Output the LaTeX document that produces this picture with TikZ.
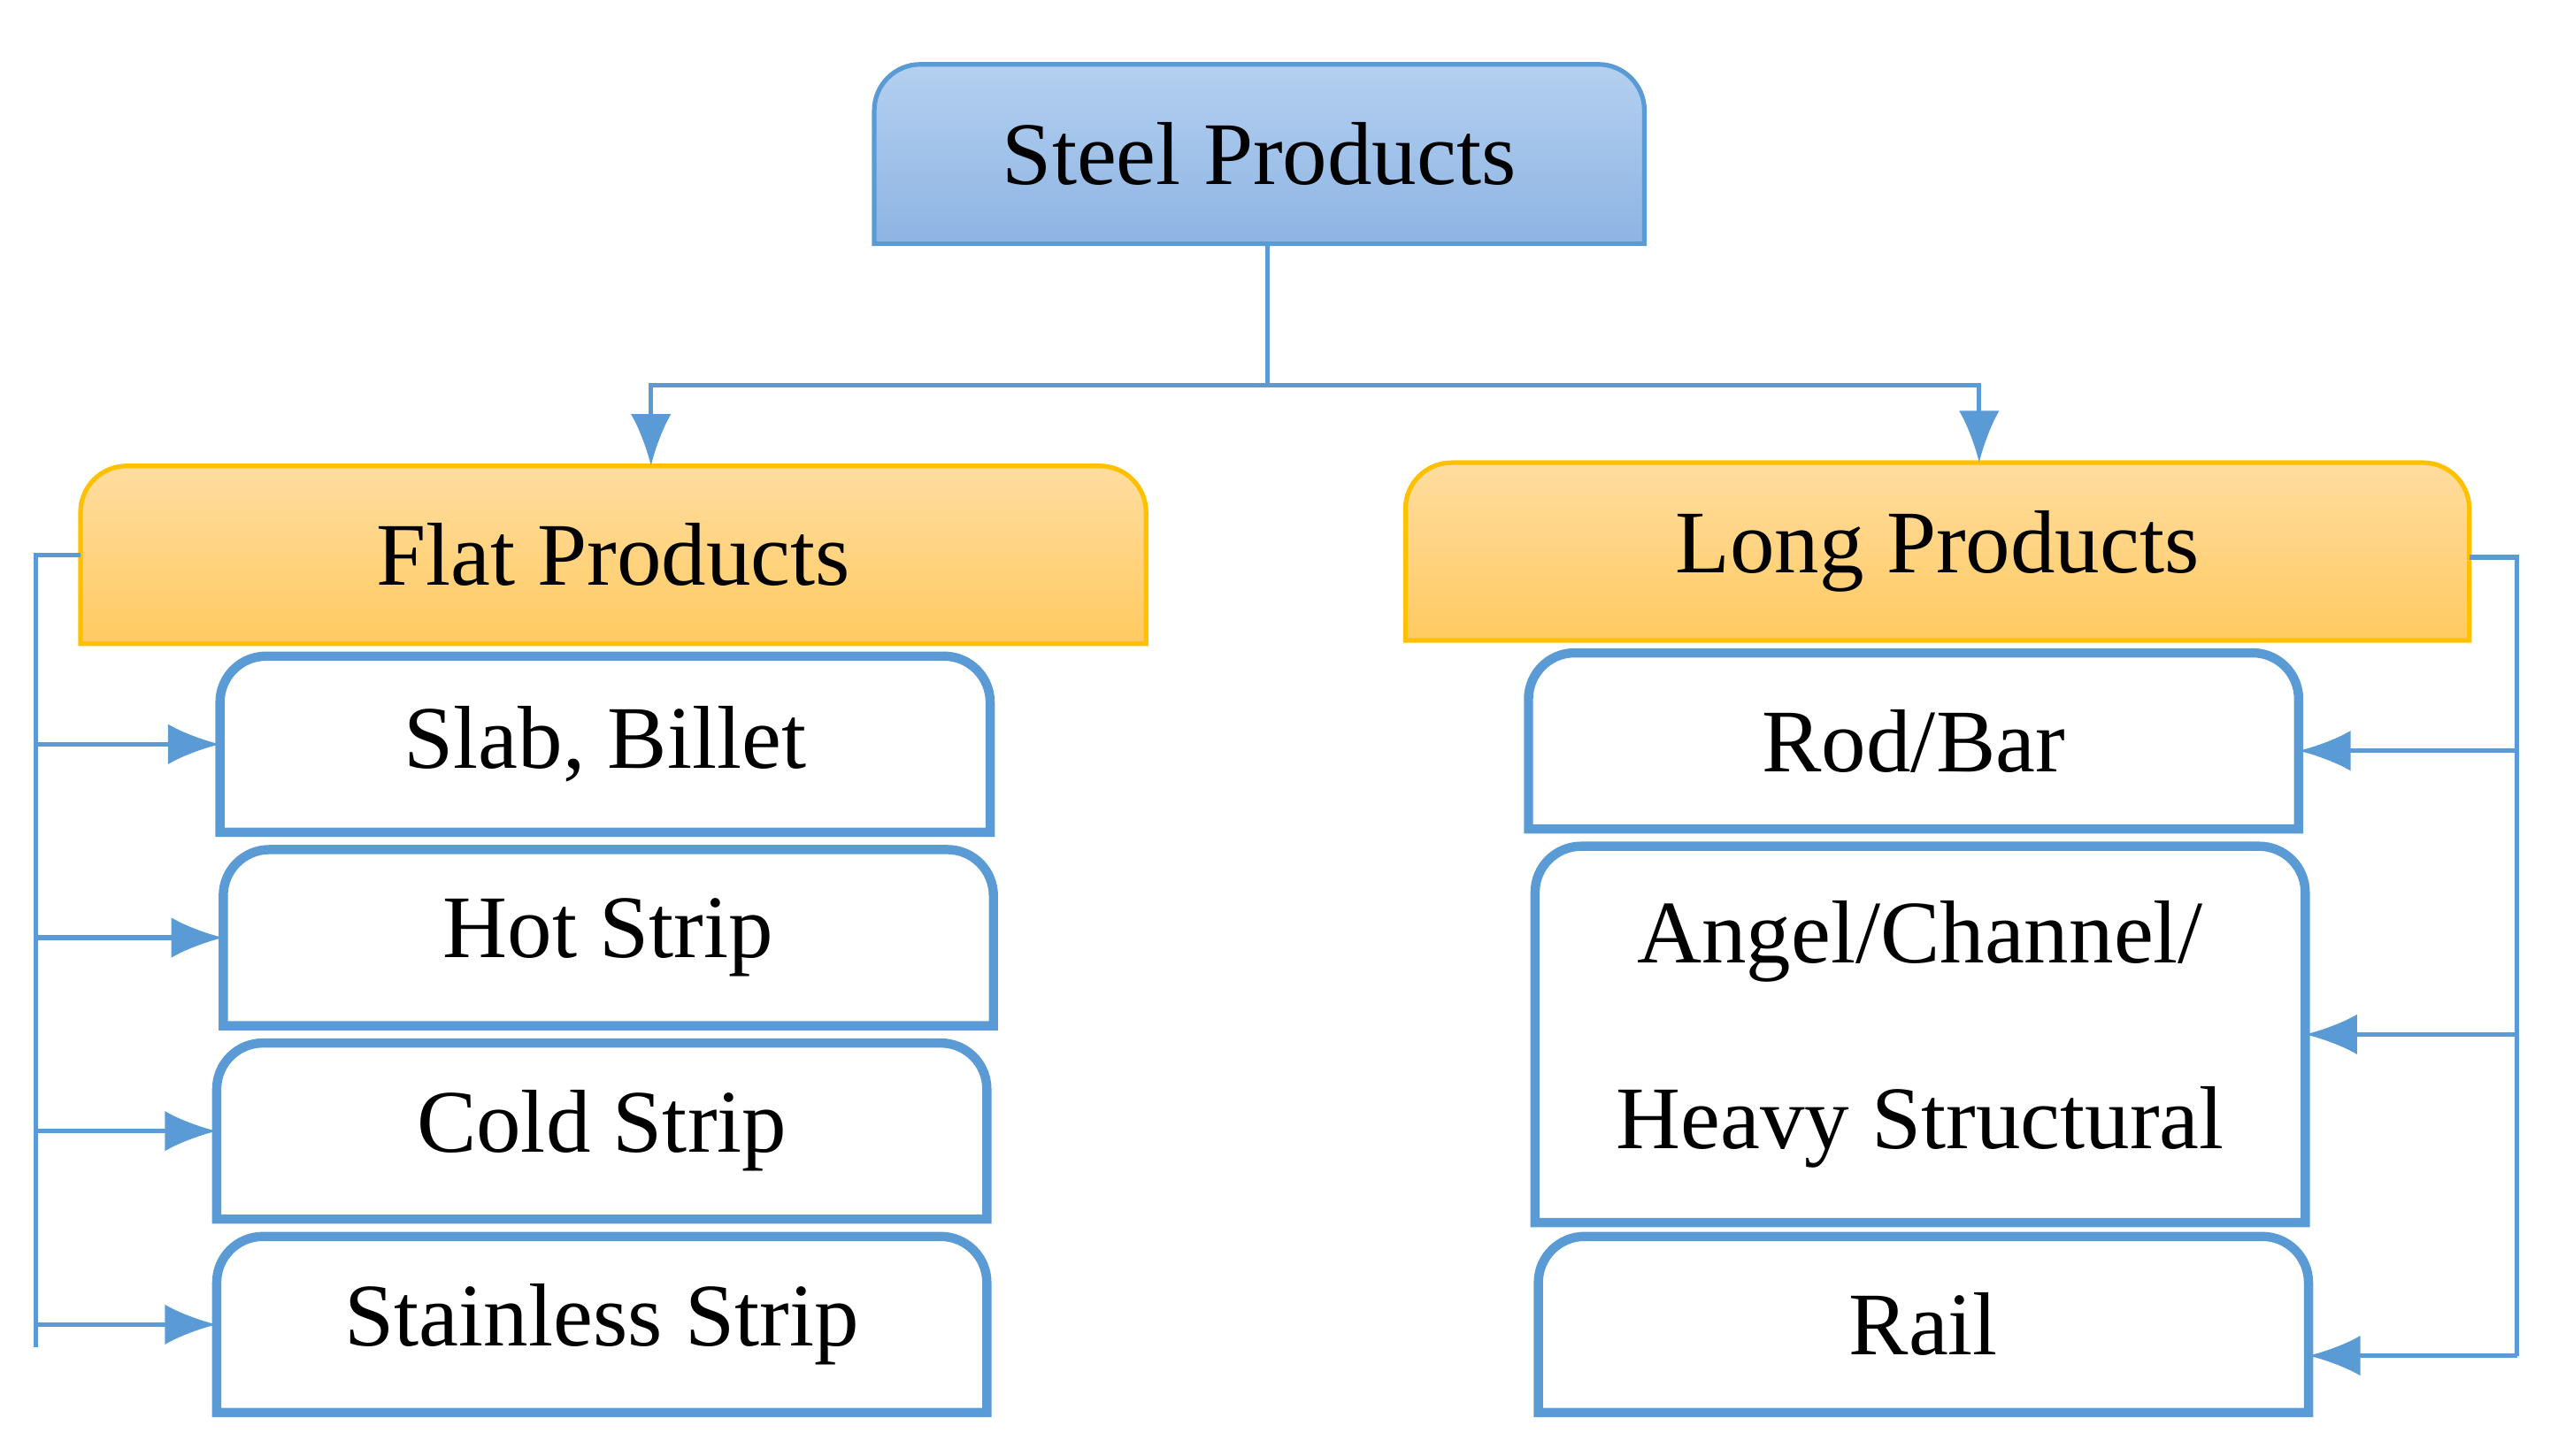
\documentclass[tikz,border=0pt]{standalone}
\usepackage{fontspec}
\setmainfont{Liberation Serif}
\usetikzlibrary{arrows.meta,backgrounds}
\definecolor{lineblue}{HTML}{5B9BD5}
\definecolor{topblue}{HTML}{B4D0F0}
\definecolor{botblue}{HTML}{8DB4E3}
\definecolor{toporange}{HTML}{FFDDA0}
\definecolor{botorange}{HTML}{FFCA60}
\definecolor{edgeorange}{HTML}{FFC000}

\tikzstyle{box}=[rectangle,
                 inner sep=0pt,
                 align=center,
                 font=\fontsize{15.5}{18}\selectfont]
\tikzstyle{link}=[lineblue, line width=0.8pt, -{Latex[length=9pt,width=7pt]}]

% outline with rounded top corners only
\newcommand{\topround}[2]{%
  \draw[#2] (#1.south west) [rounded corners=8pt] -- (#1.north west)
    -- (#1.north east) [sharp corners] -- (#1.south east) -- cycle;}

\begin{document}
\begin{tikzpicture}[x=0.01cm,y=0.01cm]
  \useasboundingbox (0,0) rectangle (1560,888);

  \node (steel) [box, minimum width=4.68cm, minimum height=1.08cm] at (768,794) {Steel Products};
  \node (flat) [box, minimum width=6.48cm, minimum height=1.07cm] at (374,549.5) {Flat Products};
  \node (long) [box, minimum width=6.47cm, minimum height=1.07cm] at (1181.5,551.5) {Long Products};

  \node (slab) [box, minimum width=4.68cm, minimum height=1.06cm] at (369,434) {Slab, Billet};
  \node (hot) [box, minimum width=4.68cm, minimum height=1.06cm] at (371,316) {Hot Strip};
  \node (cold) [box, minimum width=4.68cm, minimum height=1.06cm] at (367,198) {Cold Strip};
  \node (stainless) [box, minimum width=4.68cm, minimum height=1.06cm] at (367,80) {Stainless Strip};

  \node (rod) [box, minimum width=4.68cm, minimum height=1.06cm] at (1167,436) {Rod/Bar};
  \node (angel) [box, minimum width=4.68cm, minimum height=2.28cm] at (1171,257)
        {Angel/Channel/\\[5mm]Heavy Structural};
  \node (rail) [box, minimum width=4.68cm, minimum height=1.06cm] at (1173,80) {Rail};

  % outlines behind the texts
  \begin{pgfonlayer}{background}
    \topround{steel}{lineblue, line width=0.8pt, top color=topblue, bottom color=botblue}
    \topround{flat}{edgeorange, line width=0.8pt, top color=toporange, bottom color=botorange}
    \topround{long}{edgeorange, line width=0.8pt, top color=toporange, bottom color=botorange}
    \foreach \n in {slab,hot,cold,stainless,rod,angel,rail}
      {\topround{\n}{lineblue, line width=1.6pt, fill=white}}
  \end{pgfonlayer}

  % connectors
  \coordinate (split) at (773,653);
  \draw[lineblue, line width=0.8pt] (steel.south -| split) -- (split);
  \draw[link] (split) -| (flat.north -| 397,0);
  \draw[link] (split) -| (long.north -| 1207,0);

  \coordinate (lbus) at (22,66);
  \draw[lineblue, line width=0.8pt] (flat.west) -| (lbus);
  \foreach \n in {slab,hot,cold,stainless}
    \draw[link] (lbus |- \n.west) -- (\n.west);

  \coordinate (rbus) at (1535,61);
  \draw[lineblue, line width=0.8pt] (long.east |- 0,548) -| (rbus);
  \draw[link] (rbus |- 0,430) -- (rod.east |- 0,430);
  \draw[link] (rbus |- 0,257) -- (angel.east |- 0,257);
  \draw[link] (rbus) -- (rail.east |- rbus);
\end{tikzpicture}
\end{document}
